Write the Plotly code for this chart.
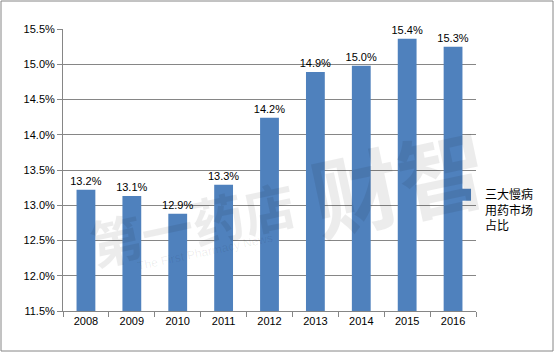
import plotly.graph_objects as go

years = ["2008", "2009", "2010", "2011", "2012", "2013", "2014", "2015", "2016"]
share = [13.22, 13.13, 12.88, 13.29, 14.24, 14.89, 14.98, 15.36, 15.25]
labels = ["13.2%", "13.1%", "12.9%", "13.3%", "14.2%", "14.9%", "15.0%", "15.4%", "15.3%"]
series_name = "三大慢病<br>用药市场<br>占比"
y_ticks = [11.5, 12.0, 12.5, 13.0, 13.5, 14.0, 14.5, 15.0, 15.5]
y_tick_text = ["11.5%", "12.0%", "12.5%", "13.0%", "13.5%", "14.0%", "14.5%", "15.0%", "15.5%"]

W, H = 555, 353
ml, mr, mt, mb = 63, 79, 29, 42
pw, ph = W - ml - mr, H - mt - mb

def px_x(p):
    return (p - ml) / pw

def px_y(p):
    return (H - mb - p) / ph

fig = go.Figure()
fig.add_trace(go.Bar(
    x=years, y=share, name=series_name,
    marker=dict(color="#4F81BD", line=dict(width=0)),
    text=labels, textposition="outside", cliponaxis=False, constraintext="none",
    textfont=dict(family="Liberation Sans, Arial", size=11, color="#000000"),
))

fig.update_layout(
    width=W, height=H,
    margin=dict(l=ml, r=mr, t=mt, b=mb),
    paper_bgcolor="white", plot_bgcolor="white",
    bargap=0.59,
    showlegend=True,
    legend=dict(x=0.925, y=0.357, xanchor="left", yanchor="middle", valign="top",
                font=dict(family="Noto Sans CJK SC", size=12, color="#000000"),
                bgcolor="rgba(0,0,0,0)", itemwidth=30),
    font=dict(family="Liberation Sans, Arial", size=11, color="#000000"),
    xaxis=dict(showline=True, linecolor="#868686", linewidth=1,
               ticks="outside", tickson="boundaries", ticklen=5, tickcolor="#868686",
               showgrid=False, tickfont=dict(size=11)),
    yaxis=dict(range=[11.5, 15.5], tickvals=y_ticks, ticktext=y_tick_text,
               showline=True, linecolor="#868686", linewidth=1,
               ticks="outside", ticklen=5, tickcolor="#868686",
               showgrid=True, gridcolor="#868686", gridwidth=1,
               zeroline=False, tickfont=dict(size=11)),
)

# faint watermark
wm = "rgba(0,0,0,0.075)"
fig.add_annotation(text="第一药店", xref="paper", yref="paper",
                   x=px_x(192), y=px_y(222), xanchor="center", yanchor="middle",
                   showarrow=False, textangle=-12,
                   font=dict(family="Noto Sans CJK SC", size=52, color=wm, weight="bold"))
fig.add_annotation(text="财智", xref="paper", yref="paper",
                   x=px_x(398), y=px_y(180), xanchor="center", yanchor="middle",
                   showarrow=False, textangle=-12,
                   font=dict(family="Noto Sans CJK SC", size=88, color=wm, weight="bold"))
fig.add_annotation(text="The First Pharmacy News", xref="paper", yref="paper",
                   x=px_x(205), y=px_y(252), xanchor="center", yanchor="middle",
                   showarrow=False, textangle=-12,
                   font=dict(family="Liberation Sans", size=12, color=wm))

# outer border
fig.add_shape(type="rect", xref="paper", yref="paper",
              x0=px_x(1), x1=px_x(553), y0=px_y(351), y1=px_y(1),
              line=dict(color="#868686", width=1), layer="above")

fig.write_html("out.html")
